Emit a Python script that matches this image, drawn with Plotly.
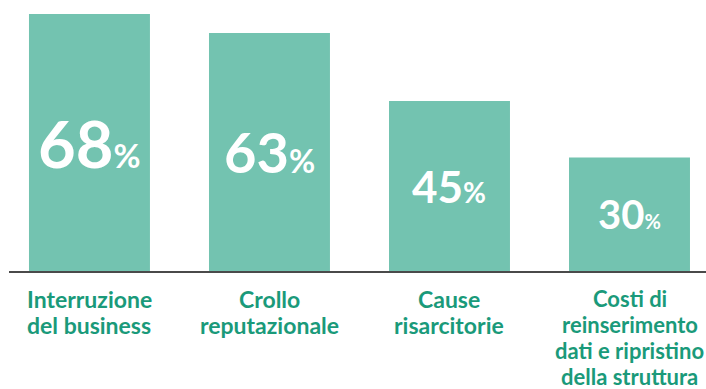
import plotly.graph_objects as go

categories = ["Interruzione<br>del business", "Crollo<br>reputazionale", "Cause<br>risarcitorie",
              "Costi di<br>reinserimento<br>dati e ripristino<br>della struttura"]
values = [68, 63, 45, 30]
num_sizes = [65, 56, 44, 40]
pct_sizes = [33, 32, 28, 20]
label_sizes = [23, 23, 23, 22]

BAR = "#73C3B0"
LABEL = "#1A9A7A"
FONT = "Lato"

x = list(range(len(categories)))

fig = go.Figure(go.Bar(x=x, y=values, marker=dict(color=BAR, line=dict(width=0)),
                       width=0.672, hoverinfo="skip"))

ann = []
for i, (v, ns, ps) in enumerate(zip(values, num_sizes, pct_sizes)):
    ann.append(dict(x=i, y=v / 2, xref="x", yref="y", showarrow=False,
                    text=f"<b>{v}</b><b><span style='font-size:{ps}px'>%</span></b>",
                    font=dict(family=FONT, size=ns, color="white"),
                    xanchor="center", yanchor="middle"))
    for k, line in enumerate(categories[i].split("<br>")):
        ann.append(dict(x=i, y=0, xref="x", yref="y", showarrow=False,
                        text=f"<b>{line}</b>", yanchor="top", xanchor="center",
                        yshift=-12 - 26 * k, align="center",
                        font=dict(family=FONT, size=label_sizes[i], color=LABEL)))

fig.update_layout(
    width=706, height=389,
    margin=dict(l=9, r=0, t=14, b=118),
    plot_bgcolor="white", paper_bgcolor="white",
    showlegend=False,
    annotations=ann,
    xaxis=dict(range=[-0.447, 3.425], showticklabels=False, showgrid=False, zeroline=False,
               showline=True, linecolor="#4a4a4a", linewidth=1.5, ticks=""),
    yaxis=dict(range=[0, 68], visible=False, showgrid=False, zeroline=False),
)

fig.write_html("out.html")
